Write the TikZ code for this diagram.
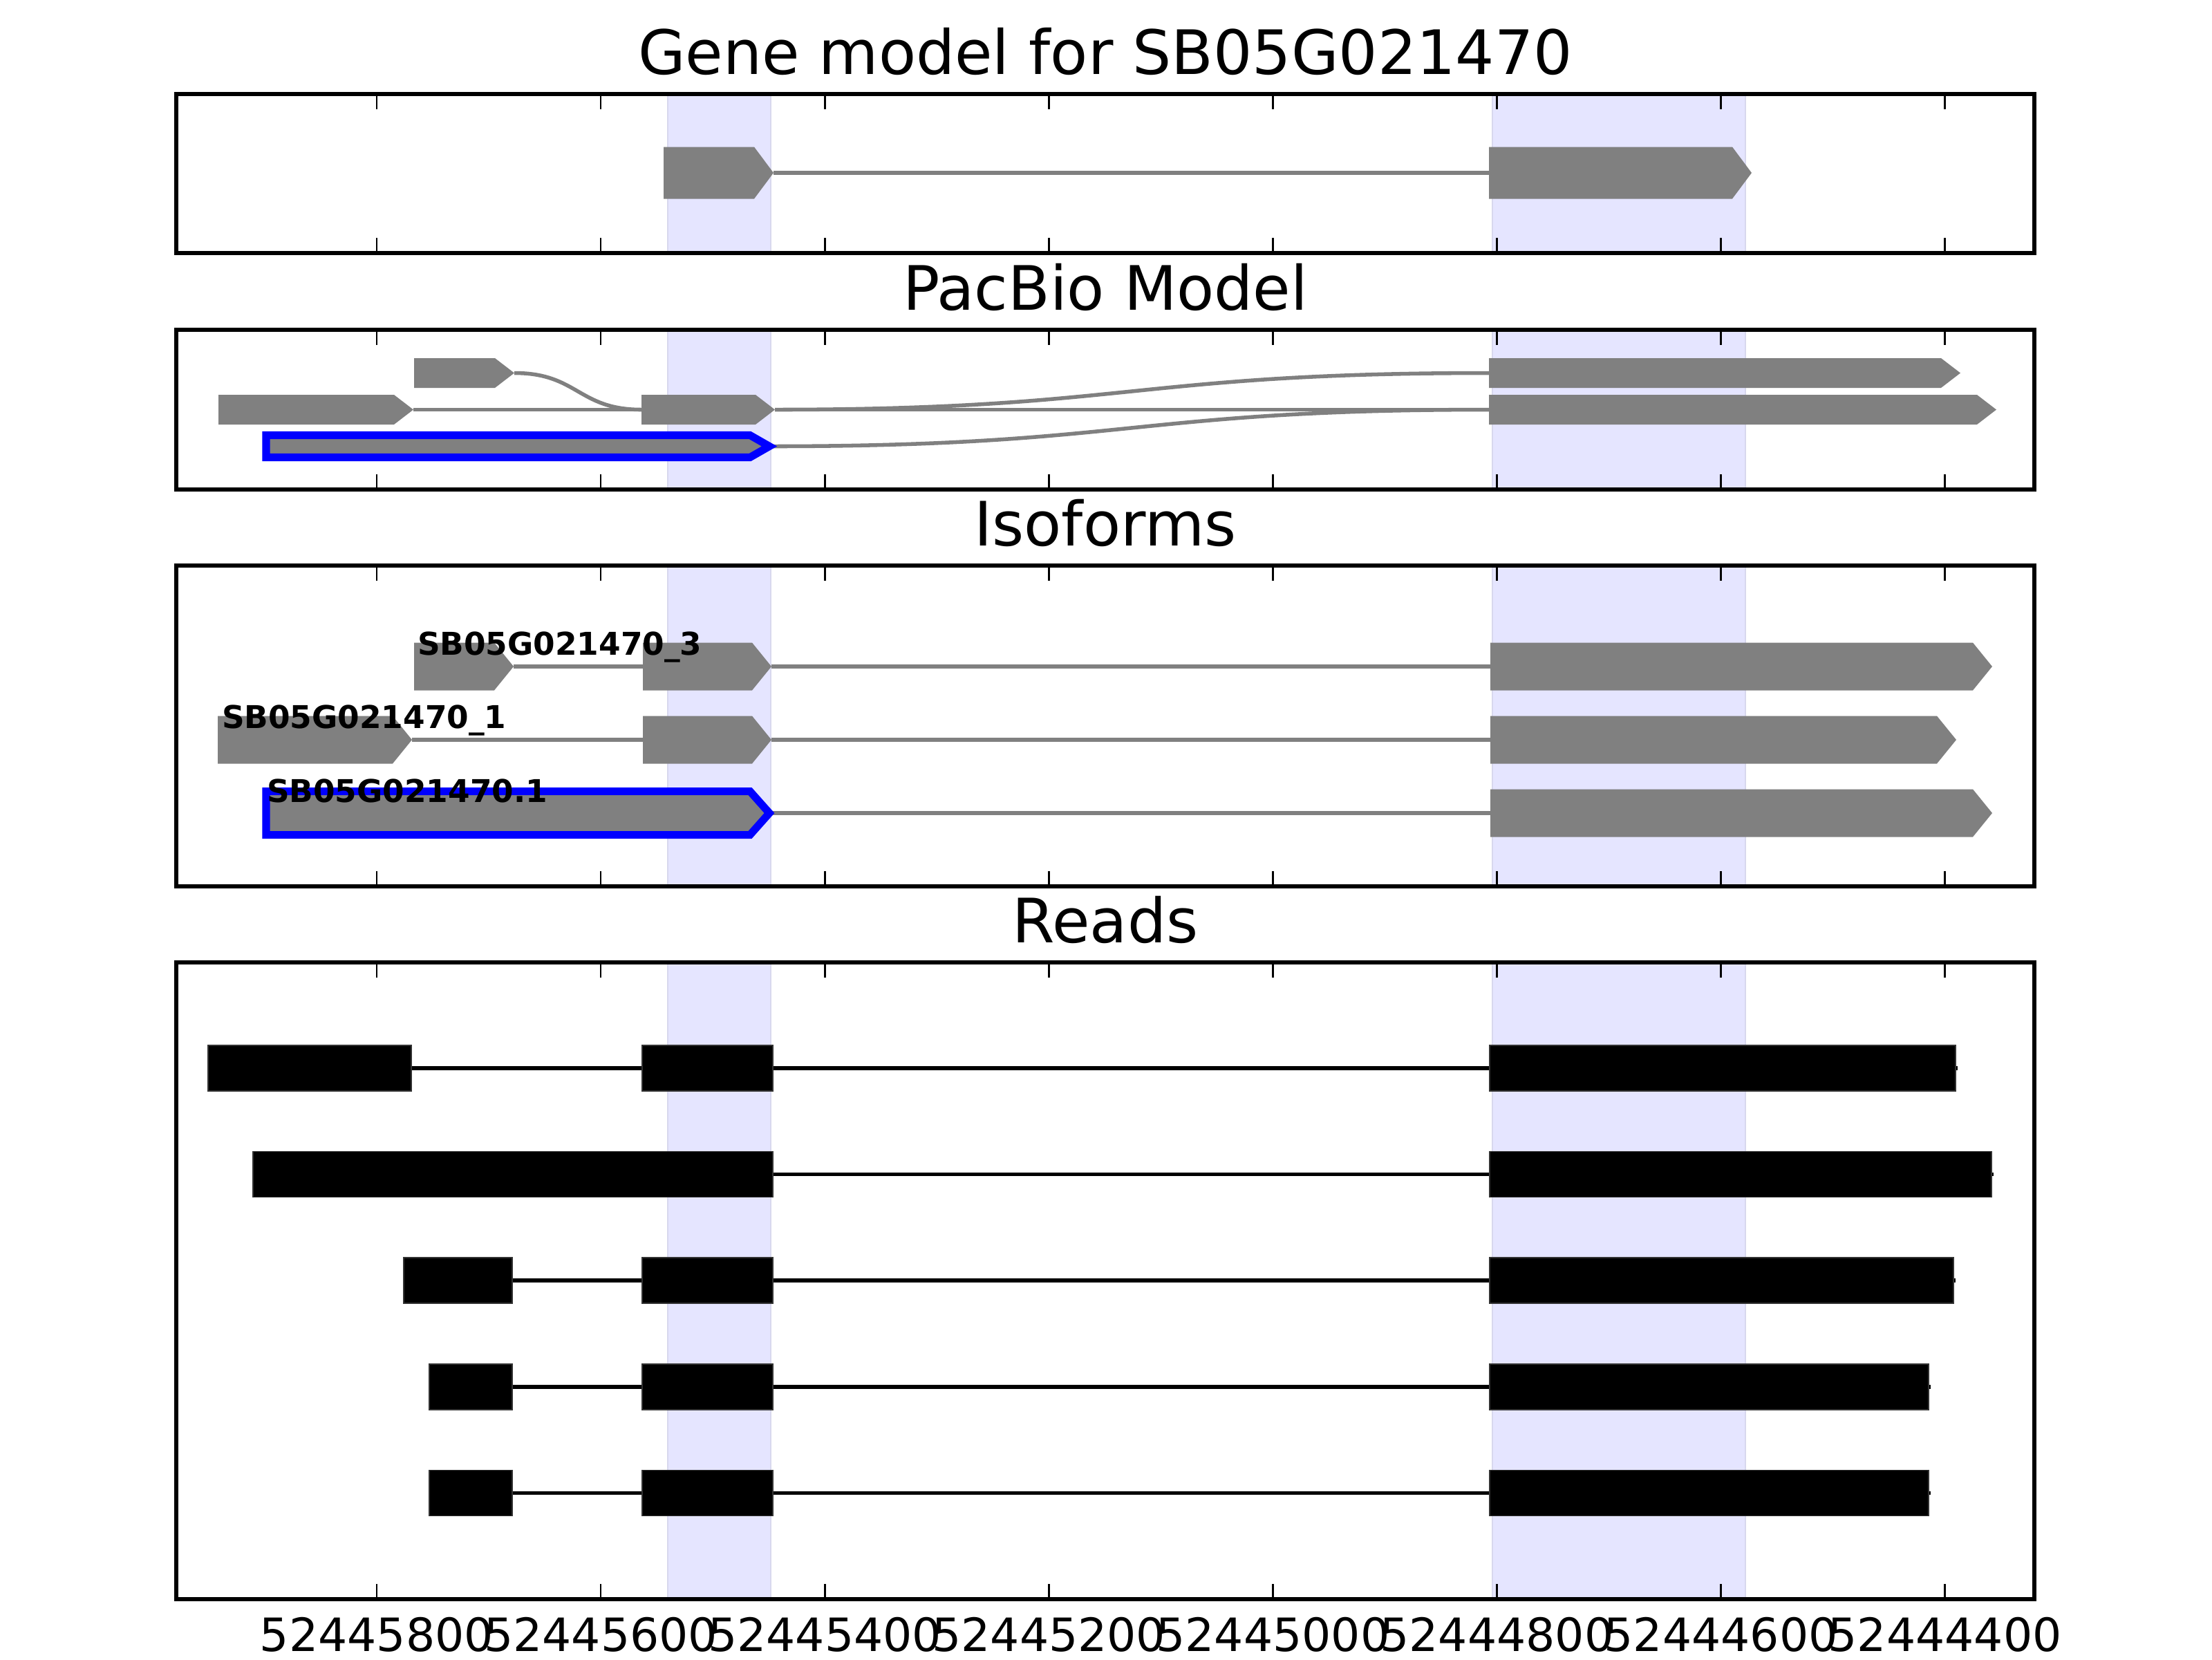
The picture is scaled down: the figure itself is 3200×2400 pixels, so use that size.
\documentclass[tikz,border=0pt]{standalone}
\usepackage{fontspec}
\setmainfont{DejaVu Sans}
\pgfdeclarelayer{background}
\pgfsetlayers{background,main}
\definecolor{bandfill}{RGB}{229,229,255}
\definecolor{bandedge}{RGB}{216,216,238}
\newcommand{\Panel}[4]%
% name, top, bottom, title
{ \begin{pgfonlayer}{background}
    \foreach \a/\b in {966/1115, 2159/2525}
    {   \draw[band] (\a,#2) rectangle (\b,#3); }
  \end{pgfonlayer}
  \draw[frame] (255,#2) rectangle (2943,#3);
  \foreach \k in {0,...,7}
  {   \draw[tick] ({545+\k*324.1},#2) -- ++(0,22);
      \draw[tick] ({545+\k*324.1},#3) -- ++(0,-22);
  }
  \node[paneltitle] (#1) at (1599,#2-29) {#4};
}
\newcommand{\Exon}[5][]%
% style, start, end, y, half height
{   \path[exon, #1] (#2,#4-#5) -- (#3-28,#4-#5) -- (#3,#4)
        -- (#3-28,#4+#5) -- (#2,#4+#5) -- cycle;
}
\newcommand{\Read}[4]%
% y, start, end, blocks
{   \draw[readline] (#2,#1) -- (#3+3,#1);
    \foreach \s/\e in {#4}
    {   \draw[readblock] (\s,#1-33) rectangle (\e,#1+33); }
}

\begin{document}
\begin{tikzpicture}
[   x=0.0635mm, y=-0.0635mm,
    band/.style={fill=bandfill, draw=bandedge, line width=0.5pt},
    frame/.style={draw=black, line width=1pt},
    tick/.style={draw=black, line width=0.5pt},
    paneltitle/.style={anchor=base, inner sep=0, font=\fontsize{16}{19}\selectfont},
    ticklabel/.style={anchor=base, inner sep=0, font=\fontsize{12}{14}\selectfont},
    isolabel/.style={anchor=base west, inner sep=0, font=\fontsize{8.2}{10}\selectfont\bfseries},
    exon/.style={fill=gray},
    blue outline/.style={draw=blue, line width=2pt, miter limit=10},
    intron/.style={draw=gray, line width=1pt},
    readline/.style={draw=black, line width=1pt},
    readblock/.style={fill=black, draw=black!80, line width=0.3pt}
]
    \useasboundingbox (0,0) rectangle (3200,2400);

    % gene model
    \Panel{gene}{136}{366}{Gene model for SB05G021470}
    \draw[intron] (1119,250) -- (2154,250);
    \Exon{960}{1119}{250}{37.5}
    \Exon{2154}{2534}{250}{37.5}

    % pacbio
    \Panel{pacbio}{477}{708}{PacBio Model}
    \draw[intron] (598,592.5) -- (928,592.5);
    \draw[intron] (744,539.5) .. controls (836,539.5) and (836,592.5) .. (928,592.5);
    \draw[intron] (1121,592.5) -- (2154,592.5);
    \draw[intron] (1121,592.5) .. controls (1637,592.5) and (1637,539.5) .. (2154,539.5);
    \draw[intron] (1113,645.5) .. controls (1637,645.5) and (1637,592.5) .. (2154,592.5);
    \Exon{599}{744}{539.5}{21.5}
    \Exon{316}{598}{592.5}{21.5}
    \Exon{928}{1121}{592.5}{21.5}
    \Exon[blue outline]{385}{1113}{645.5}{16}
    \Exon{2154}{2836}{539.5}{21.5}
    \Exon{2154}{2888}{592.5}{21.5}

    % isoforms
    \Panel{isoforms}{818}{1282}{Isoforms}
    \draw[intron] (743,964) -- (930,964);
    \draw[intron] (1116,964) -- (2156,964);
    \draw[intron] (596,1070) -- (930,1070);
    \draw[intron] (1116,1070) -- (2156,1070);
    \draw[intron] (1113,1176) -- (2156,1176);
    \Exon{599}{743}{964}{34.5}
    \Exon{930}{1116}{964}{34.5}
    \Exon{2156}{2882}{964}{34.5}
    \Exon{315}{596}{1070}{34.5}
    \Exon{930}{1116}{1070}{34.5}
    \Exon{2156}{2830}{1070}{34.5}
    \Exon[blue outline]{385}{1113}{1176}{31.5}
    \Exon{2156}{2882}{1176}{34.5}
    \node[isolabel] (iso3) at (603,947) {SB05G021470\_3};
    \node[isolabel] (iso1) at (320,1053) {SB05G021470\_1};
    \node[isolabel] (isoref) at (385,1160) {SB05G021470.1};

    % reads
    \Panel{reads}{1392}{2313}{Reads}
    \Read{1545}{301}{2829}{301/595, 929/1118, 2155/2829}
    \Read{1698.5}{366}{2881}{366/1118, 2155/2881}
    \Read{1852}{584}{2826}{584/741, 929/1118, 2155/2826}
    \Read{2006}{621}{2790}{621/741, 929/1118, 2155/2790}
    \Read{2159.5}{621}{2790}{621/741, 929/1118, 2155/2790}

    \foreach \k/\lab in {0/52445800, 1/52445600, 2/52445400, 3/52445200,
                         4/52445000, 5/52444800, 6/52444600, 7/52444400}
    {   \node[ticklabel] (tl\k) at ({545+\k*324.1},2388) {\lab}; }
\end{tikzpicture}
\end{document}
